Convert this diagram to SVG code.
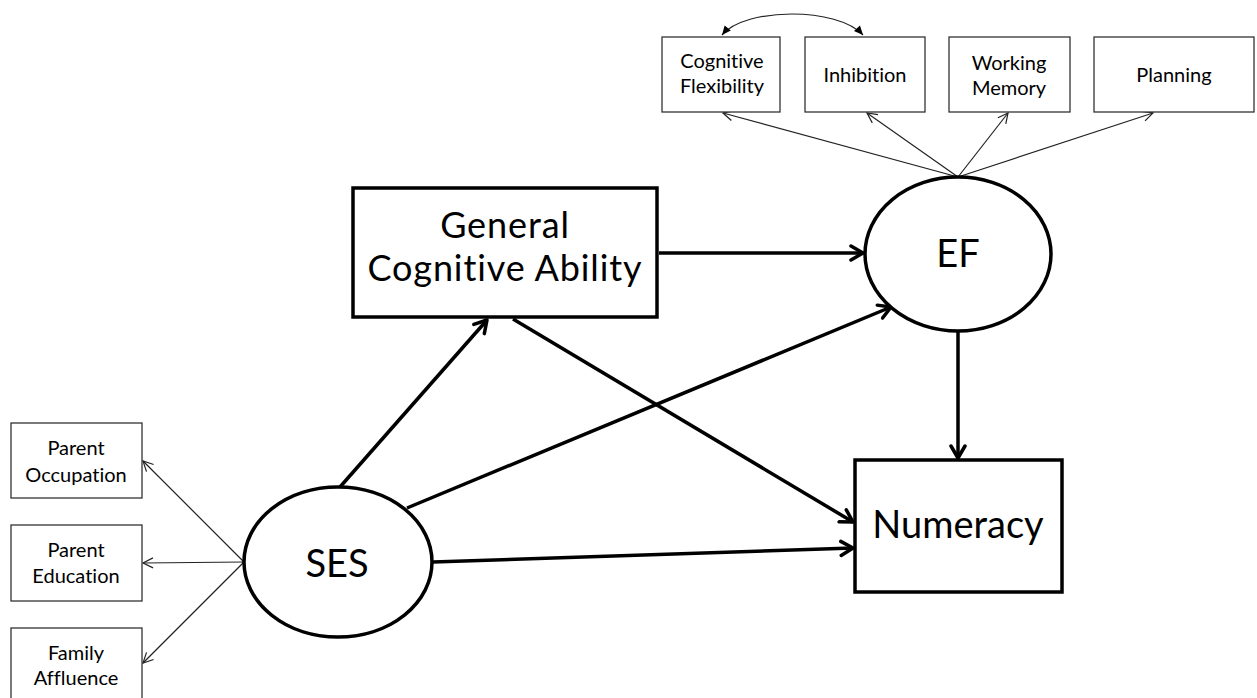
<svg xmlns="http://www.w3.org/2000/svg" width="1257" height="698" viewBox="0 0 1257 698">
<style>
text{font-family:Lato,"Noto Sans","Liberation Sans",sans-serif;fill:#000;text-anchor:middle;font-variant-ligatures:none;font-feature-settings:"liga" 0}
.thin{fill:#fff;stroke:#333;stroke-width:1.3}
.thick{fill:#fff;stroke:#000;stroke-width:3.5}
.c1{stroke:#222;stroke-width:1.2;fill:none}
.c3{stroke:#000;stroke-width:3.5;fill:none}
.s{font-size:20px}
.m{font-size:38px}
.g{font-size:36px;letter-spacing:0.9px}
</style>
<defs>
<marker id="aT" markerUnits="userSpaceOnUse" markerWidth="20" markerHeight="20" refX="14" refY="10" orient="auto">
<path d="M2,3 L14,10 L2,17" fill="none" stroke="#000" stroke-width="3.5" stroke-linecap="round" stroke-linejoin="round"/>
</marker>
<marker id="at" markerUnits="userSpaceOnUse" markerWidth="16" markerHeight="16" refX="12" refY="8" orient="auto">
<path d="M2,3 L12,8 L2,13" fill="none" stroke="#222" stroke-width="1.2"/>
</marker>
<marker id="af" markerUnits="userSpaceOnUse" markerWidth="12" markerHeight="12" refX="10" refY="6" orient="auto">
<path d="M1,2 L10,6 L1,10 Z" fill="#000"/>
</marker>
<marker id="afs" markerUnits="userSpaceOnUse" markerWidth="12" markerHeight="12" refX="2" refY="6" orient="auto">
<path d="M11,2 L2,6 L11,10 Z" fill="#000"/>
</marker>
</defs>
<g id="connectors">
<path class="c1" d="M722,35 C745,7 838,7 863,35" marker-start="url(#afs)" marker-end="url(#af)"/>
<line class="c1" x1="958" y1="177" x2="723" y2="113" marker-end="url(#at)"/>
<line class="c1" x1="958" y1="177" x2="867" y2="113" marker-end="url(#at)"/>
<line class="c1" x1="958" y1="177" x2="1008" y2="113" marker-end="url(#at)"/>
<line class="c1" x1="958" y1="177" x2="1153" y2="113" marker-end="url(#at)"/>
<line class="c1" x1="244" y1="562" x2="143" y2="461" marker-end="url(#at)"/>
<line class="c1" x1="244" y1="562" x2="143" y2="563" marker-end="url(#at)"/>
<line class="c1" x1="244" y1="562" x2="143" y2="663" marker-end="url(#at)"/>
<line class="c3" x1="659" y1="253" x2="863" y2="253" marker-end="url(#aT)"/>
<line class="c3" x1="958" y1="332" x2="958" y2="458" marker-end="url(#aT)"/>
<line class="c3" x1="340" y1="487" x2="487" y2="320" marker-end="url(#aT)"/>
<line class="c3" x1="407" y1="508" x2="891" y2="307" marker-end="url(#aT)"/>
<line class="c3" x1="433" y1="562" x2="853" y2="548" marker-end="url(#aT)"/>
<line class="c3" x1="513" y1="319" x2="853" y2="522" marker-end="url(#aT)"/>
</g>
<g id="cogflex"><rect class="thin" x="662" y="37" width="118" height="75"/><text class="s" x="722" y="68">Cognitive</text><text class="s" x="722" y="93">Flexibility</text></g>
<g id="inhibition"><rect class="thin" x="805" y="37" width="120" height="75"/><text class="s" x="865" y="82">Inhibition</text></g>
<g id="workingmemory"><rect class="thin" x="949" y="37" width="121" height="75"/><text class="s" x="1009" y="70">Working</text><text class="s" x="1009" y="95">Memory</text></g>
<g id="planning"><rect class="thin" x="1094" y="37" width="160" height="75"/><text class="s" x="1174" y="82">Planning</text></g>
<g id="parentocc"><rect class="thin" x="11" y="423" width="131" height="75"/><text class="s" x="76" y="455">Parent</text><text class="s" x="76" y="482">Occupation</text></g>
<g id="parentedu"><rect class="thin" x="11" y="525" width="131" height="76"/><text class="s" x="76" y="557">Parent</text><text class="s" x="76" y="583">Education</text></g>
<g id="familyaff"><rect class="thin" x="11" y="628" width="131" height="80"/><text class="s" x="76" y="660">Family</text><text class="s" x="76" y="685">Affluence</text></g>
<g id="gca"><rect class="thick" x="353" y="188" width="304" height="129"/><text class="g" x="505" y="238">General</text><text class="g" x="505" y="281">Cognitive Ability</text></g>
<g id="ef"><ellipse class="thick" cx="958" cy="254" rx="93" ry="77"/><text class="m" x="958" y="267">EF</text></g>
<g id="numeracy"><rect class="thick" x="855" y="460" width="207" height="132"/><text class="m" x="958" y="538">Numeracy</text></g>
<g id="ses"><ellipse class="thick" cx="338" cy="562" rx="94" ry="75"/><text class="m" x="337" y="577">SES</text></g>
</svg>
